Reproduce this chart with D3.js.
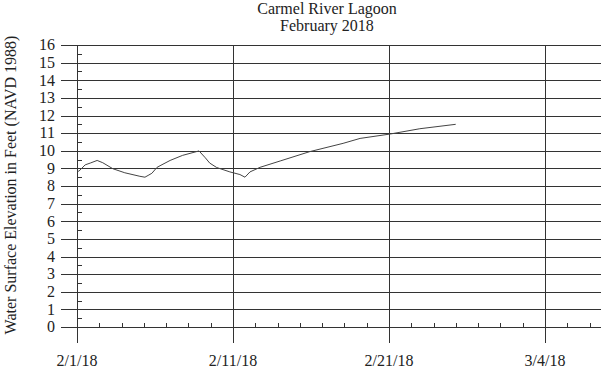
<!DOCTYPE html>
<html lang="en">
<head>
    <meta charset="UTF-8">
    <title>Carmel River Lagoon</title>
    <script src="https://cdnjs.cloudflare.com/ajax/libs/d3/7.8.5/d3.min.js"></script>
    <style>
        body { margin: 0; background: #fff; }
        svg { display: block; font-family: "Liberation Serif", "Times New Roman", serif; }
    </style>
</head>
<body>
    <div id="chart"></div>

    <script>
        // Lagoon water surface elevation
        var readingTimes = [
            "2018-02-01T00:00", "2018-02-01T03:00", "2018-02-01T13:00", "2018-02-01T21:00",
            "2018-02-02T08:00", "2018-02-02T17:00", "2018-02-03T09:00", "2018-02-04T04:00",
            "2018-02-05T04:00", "2018-02-05T12:00", "2018-02-05T17:00", "2018-02-05T23:00",
            "2018-02-06T07:00", "2018-02-06T12:00", "2018-02-07T04:00", "2018-02-08T00:00",
            "2018-02-09T02:00", "2018-02-09T12:00", "2018-02-09T19:00", "2018-02-10T06:00",
            "2018-02-11T03:00", "2018-02-11T19:00", "2018-02-12T03:00", "2018-02-12T11:00",
            "2018-02-13T03:00", "2018-02-14T11:00", "2018-02-16T10:00", "2018-02-18T15:00",
            "2018-02-19T18:00", "2018-02-21T18:00", "2018-02-23T17:00", "2018-02-26T02:00"
        ];
        var elevations = [
            8.85, 8.84, 9.20, 9.30,
            9.45, 9.32, 8.98, 8.75,
            8.55, 8.50, 8.60, 8.72,
            9.05, 9.15, 9.45, 9.74,
            9.99, 9.60, 9.30, 9.05,
            8.80, 8.65, 8.50, 8.80,
            9.06, 9.42, 9.95, 10.42,
            10.70, 10.95, 11.25, 11.50
        ];

        var xStart = "2018-02-01T00:00", xEnd = "2018-03-07T17:00";
        var xTickTimes = ["2018-02-01T00:00", "2018-02-11T08:00", "2018-02-21T16:00", "2018-03-04T00:00"];
        var xTickLabels = ["2/1/18", "2/11/18", "2/21/18", "3/4/18"];
        var yTicks = d3.range(0, 17);

        function drawChart() {
            var parse = d3.timeParse("%Y-%m-%dT%H:%M");
            var data = readingTimes.map(function(t, i) { return {date: parse(t), value: elevations[i]}; });
            var tickDates = xTickTimes.map(parse);

            var W = 603, H = 371;
            var plot = {left: 77, right: 601, top: 45, bottom: 327};

            var svg = d3.select("#chart").append("svg")
                .attr("width", W)
                .attr("height", H);

            var x = d3.scaleTime()
                .domain([parse(xStart), parse(xEnd)])
                .range([plot.left, plot.right]);

            var y = d3.scaleLinear()
                .domain([0, 16])
                .range([plot.bottom, plot.top]);

            var ink = "#333";
            function px(v) { return Math.round(v) + 0.5; }

            // horizontal gridlines, they stick out left of the axis
            svg.append("g").selectAll("line")
                .data(yTicks)
                .enter().append("line")
                .attr("x1", 61).attr("x2", plot.right)
                .attr("y1", function(d) { return px(y(d)); })
                .attr("y2", function(d) { return px(y(d)); })
                .attr("stroke", ink);

            // vertical gridlines at the date labels, running below the axis
            svg.append("g").selectAll("line")
                .data(tickDates)
                .enter().append("line")
                .attr("x1", function(d) { return px(x(d)); })
                .attr("x2", function(d) { return px(x(d)); })
                .attr("y1", plot.top).attr("y2", 343)
                .attr("stroke", ink);

            // minor x ticks: 7 per major interval
            var step = (tickDates[1] - tickDates[0]) / 7;
            var minorX = [];
            for (var t = +tickDates[0]; t <= +parse(xEnd); t += step) minorX.push(new Date(t));
            svg.append("g").selectAll("line")
                .data(minorX)
                .enter().append("line")
                .attr("x1", function(d) { return px(x(d)); })
                .attr("x2", function(d) { return px(x(d)); })
                .attr("y1", plot.bottom - 4).attr("y2", plot.bottom)
                .attr("stroke", ink);

            // minor y ticks at the half feet
            svg.append("g").selectAll("line")
                .data(d3.range(0.5, 16, 1))
                .enter().append("line")
                .attr("x1", plot.left).attr("x2", plot.left + 5)
                .attr("y1", function(d) { return px(y(d)); })
                .attr("y2", function(d) { return px(y(d)); })
                .attr("stroke", ink);

            // y labels
            svg.append("g").selectAll("text")
                .data(yTicks)
                .enter().append("text")
                .attr("x", 55)
                .attr("y", function(d) { return y(d); })
                .attr("dy", "0.33em")
                .attr("text-anchor", "end")
                .attr("font-size", 16)
                .attr("fill", "#222")
                .text(function(d) { return d; });

            // x labels
            svg.append("g").selectAll("text")
                .data(tickDates)
                .enter().append("text")
                .attr("x", function(d) { return x(d); })
                .attr("y", 366)
                .attr("text-anchor", "middle")
                .attr("font-size", 16)
                .attr("fill", "#222")
                .text(function(d, i) { return xTickLabels[i]; });

            // the series
            var line = d3.line()
                .x(function(d) { return x(d.date); })
                .y(function(d) { return y(d.value); });

            svg.append("path")
                .datum(data)
                .attr("fill", "none")
                .attr("stroke", "#444")
                .attr("stroke-width", 1)
                .attr("d", line);

            // titles
            svg.append("text")
                .attr("x", 327).attr("y", 14)
                .attr("text-anchor", "middle")
                .attr("font-size", 16)
                .attr("fill", "#222")
                .text("Carmel River Lagoon");
            svg.append("text")
                .attr("x", 327).attr("y", 30.5)
                .attr("text-anchor", "middle")
                .attr("font-size", 16)
                .attr("fill", "#222")
                .text("February 2018");

            svg.append("text")
                .attr("transform", "translate(16,185) rotate(-90)")
                .attr("text-anchor", "middle")
                .attr("font-size", 16)
                .attr("fill", "#222")
                .text("Water Surface Elevation in Feet (NAVD 1988)");
        }

        drawChart();
    </script>
</body>
</html>
